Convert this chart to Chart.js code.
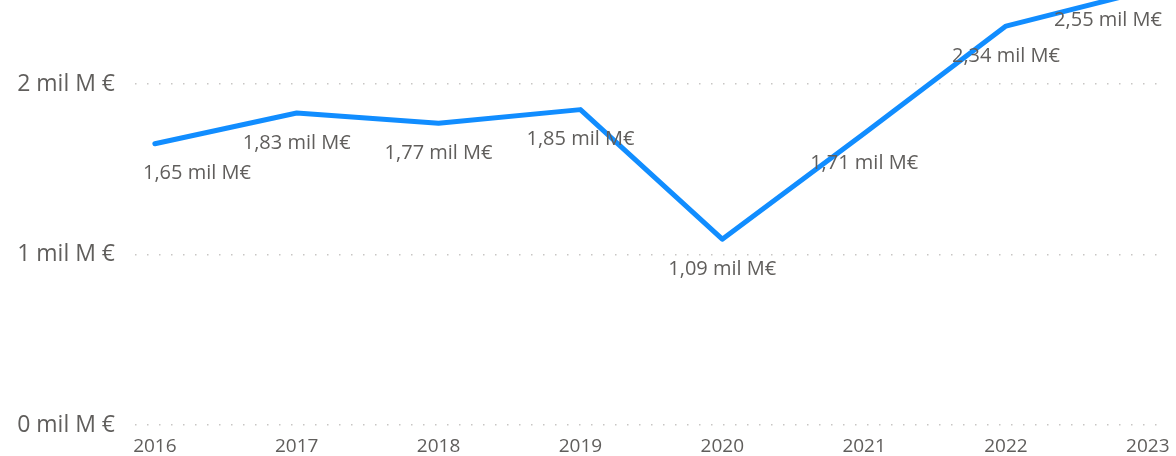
<!DOCTYPE html>
<html>
<head>
<meta charset="utf-8">
<script src="https://cdn.jsdelivr.net/npm/chart.js@4.4.1/dist/chart.umd.min.js"></script>
<style>
    html, body { margin: 0; padding: 0; background: #fff; }
    #wrap { width: 1176px; height: 456px; position: relative; }
</style>
</head>
<body>
<div id="wrap"><canvas id="line-chart-canvas"></canvas></div>
<script>
// values in thousands of millions of euros (mil M€)
const years = [2016, 2017, 2018, 2019, 2020, 2021, 2022, 2023];
const amounts = [1.65, 1.83, 1.77, 1.85, 1.09, 1.71, 2.34, 2.55];
const yTicks = [0, 1, 2];

const FONT = "'Open Sans', 'Noto Sans', sans-serif";
const TEXT_GREY = '#605E5C';

function fmtLabel(v) {
    return v.toFixed(2).replace('.', ',') + ' mil M€';
}

// draws the value under each point, kept inside the plot area
const pointLabels = {
    id: 'pointLabels',
    afterDatasetsDraw(chart) {
        const ctx = chart.ctx;
        const area = chart.chartArea;
        const meta = chart.getDatasetMeta(0);
        ctx.save();
        ctx.font = '20px ' + FONT;
        ctx.fillStyle = TEXT_GREY;
        ctx.textAlign = 'center';
        ctx.textBaseline = 'middle';
        meta.data.forEach((pt, i) => {
            const text = fmtLabel(amounts[i]);
            const half = ctx.measureText(text).width / 2;
            let x = pt.x;
            x = Math.max(x, area.left + 8 + half);
            x = Math.min(x, area.right - half);
            ctx.fillText(text, x, pt.y + 30);
        });
        ctx.restore();
    }
};

const ctx = document.getElementById('line-chart-canvas').getContext('2d');
const chart = new Chart(ctx, {
    type: 'line',
    data: {
        datasets: [{
            label: 'Importe',
            data: years.map((y, i) => ({ x: y, y: amounts[i] })),
            borderColor: '#118DFF',
            borderWidth: 5,
            borderCapStyle: 'round',
            borderJoinStyle: 'round',
            pointRadius: 0,
            fill: false,
            tension: 0,
            clip: false
        }]
    },
    options: {
        responsive: true,
        maintainAspectRatio: false,
        animation: false,
        layout: { padding: { top: 0, left: 0, bottom: 0, right: 14 } },
        plugins: {
            legend: { display: false },
            tooltip: { enabled: false }
        },
        scales: {
            x: {
                type: 'linear',
                min: 2015.86,
                max: 2023.1,
                afterBuildTicks: axis => { axis.ticks = years.map(v => ({ value: v })); },
                afterFit: axis => {
                    axis.height = 31;
                    axis.paddingLeft = 0;
                    axis.paddingRight = 0;
                },
                grid: { display: false },
                border: { display: false },
                ticks: {
                    padding: 2,
                    maxRotation: 0,
                    autoSkip: false,
                    color: TEXT_GREY,
                    font: { family: FONT, size: 19 },
                    callback: v => String(v)
                }
            },
            y: {
                min: 0,
                max: 2.493,
                afterBuildTicks: axis => { axis.ticks = yTicks.map(v => ({ value: v })); },
                afterFit: axis => {
                    axis.width = 135;
                    axis.paddingTop = 0;
                    axis.paddingBottom = 0;
                },
                grid: {
                    color: '#C8C6C4',
                    lineWidth: 1.5,
                    drawTicks: false
                },
                border: { display: false, dash: [1.5, 10.5] },
                ticks: {
                    padding: 20,
                    color: TEXT_GREY,
                    font: { family: FONT, size: 23 },
                    callback: v => v + ' mil M €'
                }
            }
        }
    },
    plugins: [pointLabels]
});
</script>
</body>
</html>
